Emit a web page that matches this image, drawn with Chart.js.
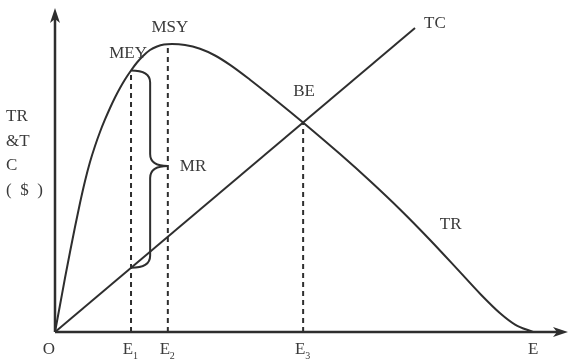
<!DOCTYPE html>
<html>
<head>
<meta charset="utf-8">
<script src="https://cdn.jsdelivr.net/npm/chart.js@4"></script>
<style>
html,body{margin:0;padding:0;background:#fff;}
canvas{display:block;}
</style>
</head>
<body>
<canvas id="c" width="572" height="363"></canvas>
<script>
// ---- data (x: fishing effort, E = 100; y: TR & TC) ----
const trX = [0, 1.05, 2.09, 3.14, 4.18, 5.23, 6.28, 7.32, 8.37, 9.41, 10.46, 11.51, 12.55, 13.60, 14.64, 15.90, 17.15, 18.41, 19.87, 21.34, 22.80, 24.48,
             27.20, 30.33, 33.47, 36.61, 40.79, 44.98, 49.16, 51.88, 59.62, 65.90, 72.18, 78.45, 84.73, 88.91, 93.10, 96.23, 100];
const trY = [0, 8.33, 16.67, 24.69, 32.41, 39.81, 46.60, 52.47, 57.41, 61.73, 65.59, 69.14, 72.38, 75.31, 77.93, 80.71, 83.18, 85.19, 87.04, 88.12, 88.73, 88.89,
             88.58, 87.41, 85.34, 82.44, 77.87, 72.99, 67.99, 64.66, 54.91, 46.60, 37.81, 28.40, 18.46, 11.82, 5.80, 2.31, 0];
const tcX = [0, 75.3];
const tcY = [0, 93.8];
// effort levels E1 (MEY), E2 (MSY), E3 (BE), E
const effortLabels = ["O", "E1", "E2", "E3", "E"];
const effortValues = [0, 15.9, 23.6, 51.9, 100];
const dashTops = [80.7, 88.8, 64.66];       // TR at E1, E2, E3
// brace (MR) between TR and TC at E1
const braceX = [15.9, 19.9, 23.6];          // start, stem, tip
const braceY = [80.7, 51.2, 19.8];          // top, tip, bottom
const yTitle = ["TR", "&T", "C", "(  $  )"];
const xMax = 107.3, yMax = 100;

const INK = '#2e2e2e';
const TXT = '#3a3a3a';
const FONT = '17px "Liberation Serif", "Times New Roman", serif';

const pts = (xs, ys) => xs.map((x, i) => ({x, y: ys[i]}));

const datasets = [
  {label: 'TR', data: pts(trX, trY), showLine: true, borderColor: INK, borderWidth: 2,
   pointRadius: 0, cubicInterpolationMode: 'monotone', fill: false},
  {label: 'TC', data: pts(tcX, tcY), showLine: true, borderColor: INK, borderWidth: 2,
   pointRadius: 0, fill: false}
];
for (let i = 0; i < 3; i++) {
  const e = effortValues[i + 1];
  datasets.push({label: effortLabels[i + 1], data: [{x: e, y: 0}, {x: e, y: dashTops[i]}],
    showLine: true, borderColor: INK, borderWidth: 2, borderDash: [5, 4], pointRadius: 0, fill: false});
}

const deco = {
  id: 'deco',
  afterDatasetsDraw(chart) {
    const ctx = chart.ctx, xs = chart.scales.x, ys = chart.scales.y;
    const X = v => xs.getPixelForValue(v), Y = v => ys.getPixelForValue(v);
    ctx.save();
    // axes
    const x0 = X(0), y0 = Y(0), xR = X(xMax), yT = Y(yMax);
    ctx.strokeStyle = INK; ctx.fillStyle = INK; ctx.lineWidth = 2.5; ctx.setLineDash([]);
    ctx.beginPath(); ctx.moveTo(x0, y0); ctx.lineTo(xR - 6, y0); ctx.stroke();
    ctx.beginPath(); ctx.moveTo(x0, y0); ctx.lineTo(x0, yT + 6); ctx.stroke();
    // arrowheads
    ctx.beginPath(); ctx.moveTo(xR, y0); ctx.lineTo(xR - 15, y0 - 5); ctx.lineTo(xR - 11, y0); ctx.lineTo(xR - 15, y0 + 5); ctx.closePath(); ctx.fill();
    ctx.beginPath(); ctx.moveTo(x0, yT); ctx.lineTo(x0 - 5, yT + 15); ctx.lineTo(x0, yT + 11); ctx.lineTo(x0 + 5, yT + 15); ctx.closePath(); ctx.fill();

    // brace
    const bx1 = X(braceX[0]), bxs = X(braceX[1]), bxt = X(braceX[2]);
    const byT = Y(braceY[0]), byM = Y(braceY[1]), byB = Y(braceY[2]);
    const r = 12;
    ctx.lineWidth = 2;
    ctx.beginPath();
    ctx.moveTo(bx1, byT);
    ctx.quadraticCurveTo(bxs, byT, bxs, byT + r);
    ctx.lineTo(bxs, byM - r);
    ctx.quadraticCurveTo(bxs, byM, bxt, byM);
    ctx.quadraticCurveTo(bxs, byM, bxs, byM + r);
    ctx.lineTo(bxs, byB - r);
    ctx.quadraticCurveTo(bxs, byB, bx1, byB);
    ctx.stroke();

    // labels
    ctx.fillStyle = TXT; ctx.font = FONT; ctx.textBaseline = 'middle';
    ctx.textAlign = 'center';
    ctx.fillText('MEY', X(effortValues[1]) - 3, Y(dashTops[0]) - 17);
    ctx.fillText('MSY', X(effortValues[2]) + 2, Y(dashTops[1]) - 17);
    ctx.fillText('BE', X(effortValues[3]) + 1, Y(dashTops[2]) - 31);
    ctx.textAlign = 'left';
    ctx.fillText('TC', X(tcX[1]) + 9, Y(tcY[1]) - 5);
    ctx.fillText('MR', bxt + 12, byM);
    ctx.fillText('TR', X(80.5), Y(33.3));
    // y title
    yTitle.forEach((t, i) => ctx.fillText(t, 6, 117 + i * 24.5));
    // x labels
    const ly = y0 + 18;
    ctx.textAlign = 'center';
    ctx.fillText(effortLabels[0], x0 - 6, ly);
    effortLabels.slice(1).forEach((lab, i) => {
      const px = X(effortValues[i + 1]);
      if (lab.length > 1) {
        ctx.textAlign = 'center'; ctx.font = FONT;
        ctx.fillText(lab[0], px - 3, ly);
        ctx.textAlign = 'left'; ctx.font = '10px "Liberation Serif", serif';
        ctx.fillText(lab.slice(1), px + 2, ly + 6);
        ctx.font = FONT;
      } else {
        ctx.textAlign = 'center';
        ctx.fillText(lab, px, ly);
      }
    });
    ctx.restore();
  }
};

new Chart(document.getElementById('c'), {
  type: 'scatter',
  data: {datasets},
  options: {
    responsive: false, devicePixelRatio: 1, animation: false,
    layout: {padding: {left: 55, right: 4, top: 8, bottom: 31}},
    plugins: {legend: {display: false}, tooltip: {enabled: false}},
    scales: {
      x: {type: 'linear', min: 0, max: xMax, display: false},
      y: {type: 'linear', min: 0, max: yMax, display: false}
    }
  },
  plugins: [deco]
});
</script>
</body>
</html>
